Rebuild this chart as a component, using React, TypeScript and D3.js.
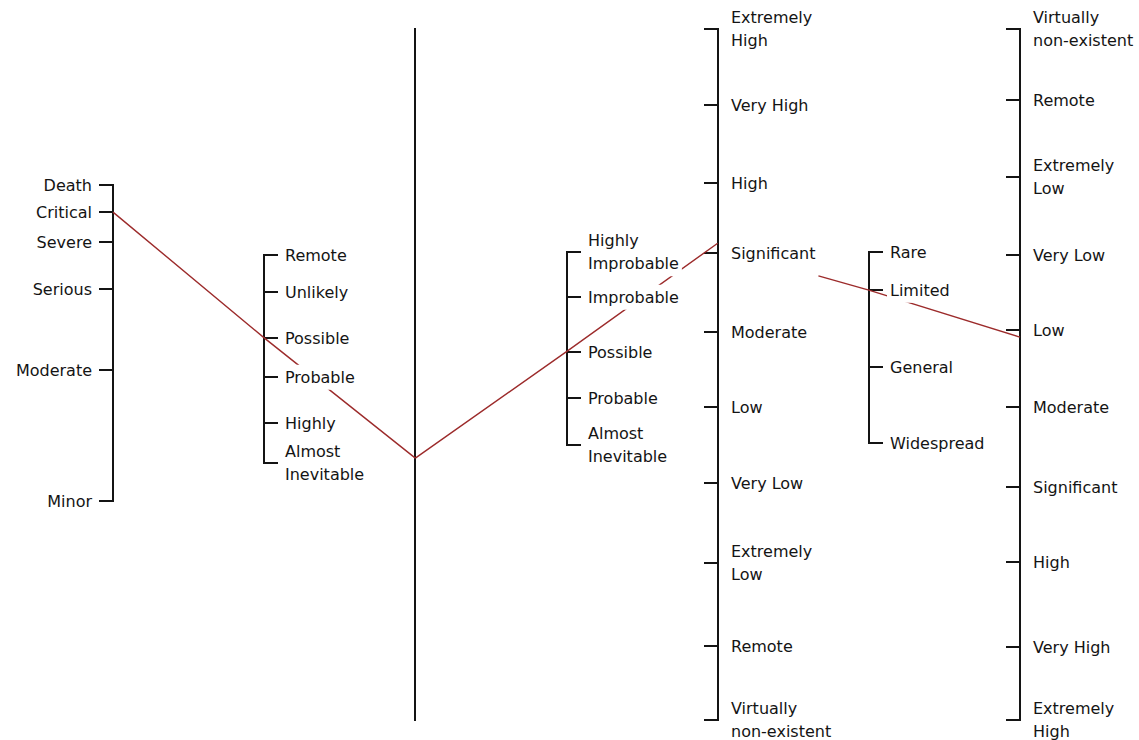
import React, { useEffect, useRef } from 'react';
import * as d3 from 'd3';

// Scales of the nomogram, left to right
const axisOrder = ['severity', 'probability', 'pivot', 'probability2', 'level', 'extent', 'risk'];

// Label positions are on a common 0..100 vertical scale
const severityLabels = ['Death', 'Critical', 'Severe', 'Serious', 'Moderate', 'Minor'];
const severityValues = [22.6, 26.5, 30.8, 37.6, 49.3, 68.3];

const probabilityLabels = ['Remote', 'Unlikely', 'Possible', 'Probable', 'Highly', 'Almost\nInevitable'];
const probabilityValues = [32.7, 38.1, 44.7, 50.4, 57.0, 62.8];

const pivotExtent = [0, 100];

const probability2Labels = ['Highly\nImprobable', 'Improbable', 'Possible', 'Probable', 'Almost\nInevitable'];
const probability2Values = [32.3, 38.8, 46.7, 53.4, 60.2];

const levelLabels = [
  'Extremely\nHigh', 'Very High', 'High', 'Significant', 'Moderate',
  'Low', 'Very Low', 'Extremely\nLow', 'Remote', 'Virtually\nnon-existent',
];
const levelValues = [0, 11.0, 22.3, 32.4, 43.8, 54.7, 65.7, 77.3, 89.3, 100];

const extentLabels = ['Rare', 'Limited', 'General', 'Widespread'];
const extentValues = [32.3, 37.8, 48.9, 59.9];

const riskLabels = [
  'Virtually\nnon-existent', 'Remote', 'Extremely\nLow', 'Very Low', 'Low',
  'Moderate', 'Significant', 'High', 'Very High', 'Extremely\nHigh',
];
const riskValues = [0, 10.3, 21.4, 32.7, 43.6, 54.7, 66.3, 77.1, 89.4, 100];

// The red worked example: [axis, value] stops
const traceA: [string, number][] = [['severity', 26.5], ['probability', 44.7], ['pivot', 62.1]];
const traceB: [string, number][] = [['pivot', 62.1], ['probability2', 46.7], ['level', 31.0]];
const traceC: [string, number][] = [['level', 31.6], ['extent', 37.8]];
const traceD: [string, number][] = [['extent', 37.8], ['risk', 44.6]];

type Side = 'left' | 'right' | 'none';
interface AxisDef {
  key: string;
  labels: string[];
  values: number[];
  tick: Side;
  text: Side;
}

const axes: AxisDef[] = [
  { key: 'severity', labels: severityLabels, values: severityValues, tick: 'left', text: 'left' },
  { key: 'probability', labels: probabilityLabels, values: probabilityValues, tick: 'right', text: 'right' },
  { key: 'pivot', labels: [], values: [], tick: 'none', text: 'none' },
  { key: 'probability2', labels: probability2Labels, values: probability2Values, tick: 'right', text: 'right' },
  { key: 'level', labels: levelLabels, values: levelValues, tick: 'left', text: 'right' },
  { key: 'extent', labels: extentLabels, values: extentValues, tick: 'right', text: 'right' },
  { key: 'risk', labels: riskLabels, values: riskValues, tick: 'left', text: 'right' },
];

const width = 1139;
const height = 740;
const tickLen = 13;
const lineGap = 23;
const ink = '#141414';
const red = '#9c2b2b';

const App: React.FC = () => {
  const svgRef = useRef<SVGSVGElement>(null);

  useEffect(() => {
    if (!svgRef.current) return;
    const svg = d3.select(svgRef.current);
    svg.selectAll('*').remove();

    const x = d3.scalePoint<string>().domain(axisOrder).range([113, 1020]);
    const y = d3.scaleLinear().domain([0, 100]).range([29, 720]);
    const ax = (k: string) => Math.round(x(k) as number);
    const ay = (v: number) => Math.round(y(v));

    const axisG = svg.append('g').attr('stroke', ink).attr('stroke-width', 2).attr('stroke-linecap', 'square');
    const redG = svg.append('g');
    const boxG = svg.append('g');
    const textG = svg.append('g')
      .style('font-family', '"DejaVu Sans", Verdana, sans-serif')
      .style('font-size', '16px')
      .attr('fill', ink);

    const labelNodes: Record<string, SVGTextElement> = {};

    axes.forEach(a => {
      const cx = ax(a.key);
      const ext = a.values.length ? (d3.extent(a.values) as [number, number]) : pivotExtent;
      axisG.append('line')
        .attr('x1', cx).attr('x2', cx)
        .attr('y1', ay(ext[0])).attr('y2', ay(ext[1]));

      a.values.forEach((v, i) => {
        const ty = ay(v);
        const dir = a.tick === 'left' ? -1 : 1;
        axisG.append('line')
          .attr('x1', cx).attr('x2', cx + dir * tickLen)
          .attr('y1', ty).attr('y2', ty);

        const lines = a.labels[i].split('\n');
        const tx = a.text === 'left' ? cx - 21 : a.tick === 'left' ? cx + 13 : cx + 21;
        const y0 = ty - ((lines.length - 1) * lineGap) / 2;
        const t = textG.append('text')
          .attr('text-anchor', a.text === 'left' ? 'end' : 'start');
        lines.forEach((ln, j) => {
          t.append('tspan')
            .attr('x', tx)
            .attr('y', y0 + j * lineGap)
            .attr('dy', '0.36em')
            .text(ln);
        });
        labelNodes[`${a.key}:${a.labels[i]}`] = t.node() as SVGTextElement;
      });
    });

    // white label backgrounds that interrupt the red lines
    Object.values(labelNodes).forEach(node => {
      const b = node.getBBox();
      boxG.append('rect')
        .attr('x', b.x - 3).attr('y', b.y - 3)
        .attr('width', b.width + 6).attr('height', b.height + 6)
        .attr('fill', '#fff');
    });

    const line = d3.line<[number, number]>();
    const drawTrace = (stops: [string, number][], clipLabel?: string) => {
      let pts: [number, number][] = stops.map(([k, v]) => [x(k) as number, y(v)]);
      if (clipLabel && labelNodes[clipLabel]) {
        const b = labelNodes[clipLabel].getBBox();
        const cx = b.x + b.width + 3;
        const [p0, p1] = pts;
        const t = (cx - p0[0]) / (p1[0] - p0[0]);
        pts = [[cx, p0[1] + t * (p1[1] - p0[1])], p1];
      }
      redG.append('path')
        .attr('d', line(pts))
        .attr('fill', 'none')
        .attr('stroke', red)
        .attr('stroke-width', 1.4);
    };

    drawTrace(traceA);
    drawTrace(traceB);
    drawTrace(traceC, 'level:Significant');
    drawTrace(traceD);
  }, []);

  return (
    <svg
      ref={svgRef}
      width={width}
      height={height}
      style={{ position: 'absolute', left: 0, top: 0, background: '#fff' }}
    />
  );
};

export default App;
